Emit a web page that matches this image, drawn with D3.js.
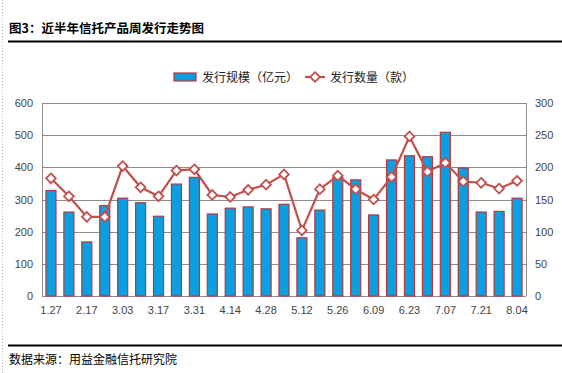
<!DOCTYPE html>
<html>
<head>
<meta charset="utf-8">
<script src="https://cdn.jsdelivr.net/npm/d3@7"></script>
<style>
  body { margin: 0; background: #fff; }
  svg { display: block; font-family: "Liberation Sans", Arial, sans-serif; }
</style>
</head>
<body>
<div id="chart"></div>
<script>
// weekly categories; only every other one gets a tick label
const weeks = ['1.27', '2.10', '2.17', '2.24', '3.03', '3.10', '3.17', '3.24', '3.31', '4.07',
  '4.14', '4.21', '4.28', '5.05', '5.12', '5.19', '5.26', '6.02', '6.09', '6.16',
  '6.23', '6.30', '7.07', '7.14', '7.21', '7.28', '8.04'];
const tickWeeks = ['1.27', '2.17', '3.03', '3.17', '3.31', '4.14', '4.28', '5.12', '5.26', '6.09', '6.23', '7.07', '7.21', '8.04'];
// 发行规模（亿元）
const scale = [328, 261, 168, 281, 304, 290, 248, 348, 369, 255,
  273, 277, 271, 285, 181, 267, 368, 361, 252, 423,
  436, 433, 509, 398, 261, 263, 304];
// 发行数量（款）
const count = [183, 155, 123, 123, 202, 169, 155, 195, 197, 157,
  154, 165, 173, 189, 102, 166, 187, 166, 150, 185,
  248, 193, 207, 178, 176, 167, 179];
const leftTicks = [0, 100, 200, 300, 400, 500, 600];
const rightTicks = [0, 50, 100, 150, 200, 250, 300];

const W = 562, H = 373;
const margin = { top: 103, right: 36, bottom: 77, left: 42 };
const width = W - margin.left - margin.right;
const height = H - margin.top - margin.bottom;

const svg = d3.select('#chart').append('svg').attr('width', W).attr('height', H);

// page decoration: dotted left edge, title, rules, source
svg.append('line').attr('x1', 2.5).attr('x2', 2.5).attr('y1', 0).attr('y2', H)
  .attr('stroke', '#bbb').attr('stroke-dasharray', '1,2');
svg.append('text').attr('x', 9).attr('y', 33)
  .style('font-family', '"Noto Sans CJK SC", sans-serif')
  .style('font-size', '12.5px').style('font-weight', 'bold').attr('fill', '#000')
  .text('图3：近半年信托产品周发行走势图');
svg.append('line').attr('x1', 8).attr('x2', W).attr('y1', 41.5).attr('y2', 41.5)
  .attr('stroke', '#000').attr('stroke-width', 2);
svg.append('line').attr('x1', 8).attr('x2', W).attr('y1', 345.5).attr('y2', 345.5)
  .attr('stroke', '#000').attr('stroke-width', 2);
svg.append('text').attr('x', 9).attr('y', 364)
  .style('font-family', '"Noto Sans CJK SC", sans-serif')
  .style('font-size', '12px').attr('fill', '#000')
  .text('数据来源：用益金融信托研究院');

const g = svg.append('g').attr('transform', 'translate(' + margin.left + ',' + margin.top + ')');

const x = d3.scaleBand().domain(weeks).range([0, width]).paddingInner(0.44).paddingOuter(0.22);
const yL = d3.scaleLinear().domain([0, 600]).range([height, 0]);
const yR = d3.scaleLinear().domain([0, 300]).range([height, 0]);

// gridlines
g.selectAll('.grid').data(leftTicks).enter().append('line')
  .attr('x1', 0).attr('x2', width)
  .attr('y1', d => Math.round(yL(d)) + 0.5).attr('y2', d => Math.round(yL(d)) + 0.5)
  .attr('stroke', '#8c8c8c').attr('stroke-width', 1);
g.append('line').attr('x1', 0.5).attr('x2', 0.5).attr('y1', 0).attr('y2', height).attr('stroke', '#8c8c8c');
g.append('line').attr('x1', width + 0.5).attr('x2', width + 0.5).attr('y1', 0).attr('y2', height).attr('stroke', '#8c8c8c');

// axes
const axisL = g.append('g').call(d3.axisLeft(yL).tickValues(leftTicks).tickSize(0).tickPadding(9));
const axisR = g.append('g').attr('transform', 'translate(' + width + ',0)')
  .call(d3.axisRight(yR).tickValues(rightTicks).tickSize(0).tickPadding(9));
const axisB = g.append('g').attr('transform', 'translate(0,' + height + ')')
  .call(d3.axisBottom(x).tickValues(tickWeeks).tickSize(0).tickPadding(10));
[axisL, axisR, axisB].forEach(a => {
  a.select('.domain').remove();
  a.selectAll('text').style('font-size', '11px').attr('fill', '#444');
});

// bars
g.selectAll('.bar').data(weeks).enter().append('rect')
  .attr('x', d => x(d)).attr('width', x.bandwidth())
  .attr('y', (d, i) => yL(scale[i])).attr('height', (d, i) => height - yL(scale[i]))
  .attr('fill', '#0a9fe0').attr('stroke', '#b8383e').attr('stroke-width', 1.2);

// line with diamond markers
const line = d3.line().x((d, i) => x(weeks[i]) + x.bandwidth() / 2).y(d => yR(d));
g.append('path').datum(count).attr('d', line)
  .attr('fill', 'none').attr('stroke', '#c0504d').attr('stroke-width', 2.2);
const diamond = d3.symbol().type(d3.symbolDiamond2).size(60);
g.selectAll('.mk').data(count).enter().append('path')
  .attr('d', diamond)
  .attr('transform', (d, i) => 'translate(' + (x(weeks[i]) + x.bandwidth() / 2) + ',' + yR(d) + ')')
  .attr('fill', '#fff').attr('stroke', '#c0504d').attr('stroke-width', 1.8);

// legend
const lg = svg.append('g').attr('transform', 'translate(174,77)');
lg.append('rect').attr('x', 0).attr('y', -4).attr('width', 22).attr('height', 8)
  .attr('fill', '#0a9fe0').attr('stroke', '#b8383e').attr('stroke-width', 1.2);
lg.append('text').attr('x', 28).attr('y', 4.5)
  .style('font-family', '"Noto Sans CJK SC", sans-serif').style('font-size', '12px').attr('fill', '#222')
  .text('发行规模（亿元）');
lg.append('line').attr('x1', 131).attr('x2', 151).attr('y1', 0).attr('y2', 0)
  .attr('stroke', '#c0504d').attr('stroke-width', 2.2);
lg.append('path').attr('d', diamond).attr('transform', 'translate(141,0)')
  .attr('fill', '#fff').attr('stroke', '#c0504d').attr('stroke-width', 1.8);
lg.append('text').attr('x', 156).attr('y', 4.5)
  .style('font-family', '"Noto Sans CJK SC", sans-serif').style('font-size', '12px').attr('fill', '#222')
  .text('发行数量（款）');
</script>
</body>
</html>
